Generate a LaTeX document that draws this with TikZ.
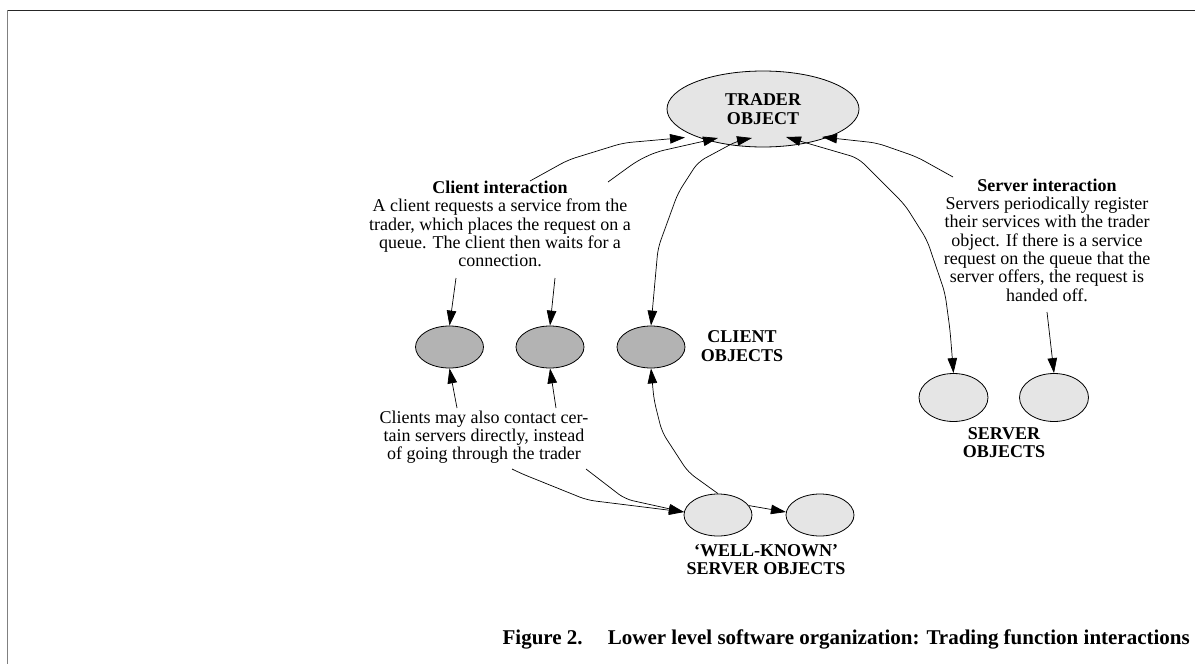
\documentclass[tikz,border=0pt]{standalone}
\usepackage{fontspec}
\setmainfont{Liberation Serif}
\usetikzlibrary{shapes.geometric,arrows.meta}
\definecolor{lightg}{RGB}{229,229,229}
\definecolor{clientg}{RGB}{179,179,179}
\begin{document}
\begin{tikzpicture}[x=1pt,y=-1pt,
  txt/.style={font=\fontsize{18}{18.3}\selectfont, align=center, inner sep=0pt},
  lbl/.style={font=\fontsize{18}{18.3}\selectfont\bfseries, align=center, inner sep=0pt},
  obj/.style={ellipse, draw, line width=0.8pt, inner sep=0pt},
  smallobj/.style={obj, minimum width=68pt, minimum height=42pt},
  conn/.style={line width=0.7pt, rounded corners=8pt},
  arr/.style={conn, -{Triangle[length=15pt,width=9.5pt]}},
  darr/.style={conn, {Triangle[length=15pt,width=9.5pt]}-{Triangle[length=15pt,width=9.5pt]}},
]
\useasboundingbox (0,0) rectangle (1195,664);
% frame
\draw[line width=1pt, black!85] (7,10.5) -- (1195,10.5);
\draw[line width=1.6pt, black!50] (7.5,10) -- (7.5,664);

% objects
\node[obj, fill=lightg, minimum width=192pt, minimum height=76pt, font=\fontsize{18}{18.3}\selectfont\bfseries, align=center] (trader) at (763,109) {TRADER\\OBJECT};
\node[smallobj, fill=clientg] (c1) at (449.5,347) {};
\node[smallobj, fill=clientg] (c2) at (550,347) {};
\node[smallobj, fill=clientg] (c3) at (651,347) {};
\node[lbl] (clbl) at (742,346) {CLIENT\\OBJECTS};
\node[obj, fill=lightg, minimum width=69pt, minimum height=48pt] (s1) at (953.5,397.5) {};
\node[obj, fill=lightg, minimum width=69pt, minimum height=48pt] (s2) at (1054,397.5) {};
\node[lbl] (slbl) at (1004,442.5) {SERVER\\OBJECTS};
\node[smallobj, fill=lightg] (w1) at (718,515) {};
\node[smallobj, fill=lightg] (w2) at (820,515) {};
\node[lbl] (wlbl) at (766,559.5) {`WELL-KNOWN'\\SERVER OBJECTS};

% texts
\node[txt] (ctext) at (500,224) {\textbf{Client interaction}\\A client requests a service from the\\trader, which places the request on a\\queue. The client then waits for a\\connection.};
\node[txt] (stext) at (1047,240) {\textbf{Server interaction}\\Servers periodically register\\their services with the trader\\object. If there is a service\\request on the queue that the\\server offers, the request is\\handed off.};
\node[txt] (dtext) at (484,437) {Clients may also contact cer-\\tain servers directly, instead\\of going through the trader};
\node[font=\fontsize{21}{24}\selectfont\bfseries, inner sep=0pt, anchor=base east] (cap) at (1190,644) {Figure 2.\hspace{1.2em}Lower level software organization: Trading function interactions};

% connector end points
\coordinate (ct1) at (530,181);
\coordinate (ct2) at (608,182);
\coordinate (ct3) at (456,278);
\coordinate (ct4) at (555,278);
\coordinate (cl1) at (457,408);
\coordinate (cl2) at (556,408);
\coordinate (cl3) at (512,469);
\coordinate (cl4) at (586,469);
\coordinate (st1) at (953,177);
\coordinate (st2) at (1047,312);
\coordinate (tr1) at (685,137.5);
\coordinate (tr2) at (718,138);
\coordinate (tr3) at (752,138);
\coordinate (tr4) at (786,137);
\coordinate (tr5) at (822,137);

% connectors
\draw[arr] (ct1) -- (568,160) -- (623,143) -- (tr1);
\draw[arr] (ct2) -- (637,161) -- (656,152) -- (tr2);
\draw[darr] (c3.north) -- (658,248) -- (678,193) -- (698,162) -- (737,141) -- (tr3);
\draw[darr] (tr4) -- (858,158) -- (905,205) -- (927,240) -- (945,293) -- (950,330) -- (s1.north);
\draw[arr] (st1) -- (917,157) -- (877,143) -- (tr5);
\draw[arr] (st2) -- (s2.north);
\draw[arr] (ct3) -- (c1.north);
\draw[arr] (ct4) -- (c2.north);
\draw[arr] (cl1) -- (c1.south);
\draw[arr] (cl2) -- (c2.south);
\draw[arr] (w1.north) -- (688,472) -- (662,432) -- (654,400) -- (c3.south);
\draw[arr] (cl3) -- (520,473) -- (587,500) -- (w1.175);
\draw[arr] (cl4) -- (625,499) -- (w1.175);
\draw[arr] (w1.17) -- (w2.175);
\end{tikzpicture}
\end{document}
